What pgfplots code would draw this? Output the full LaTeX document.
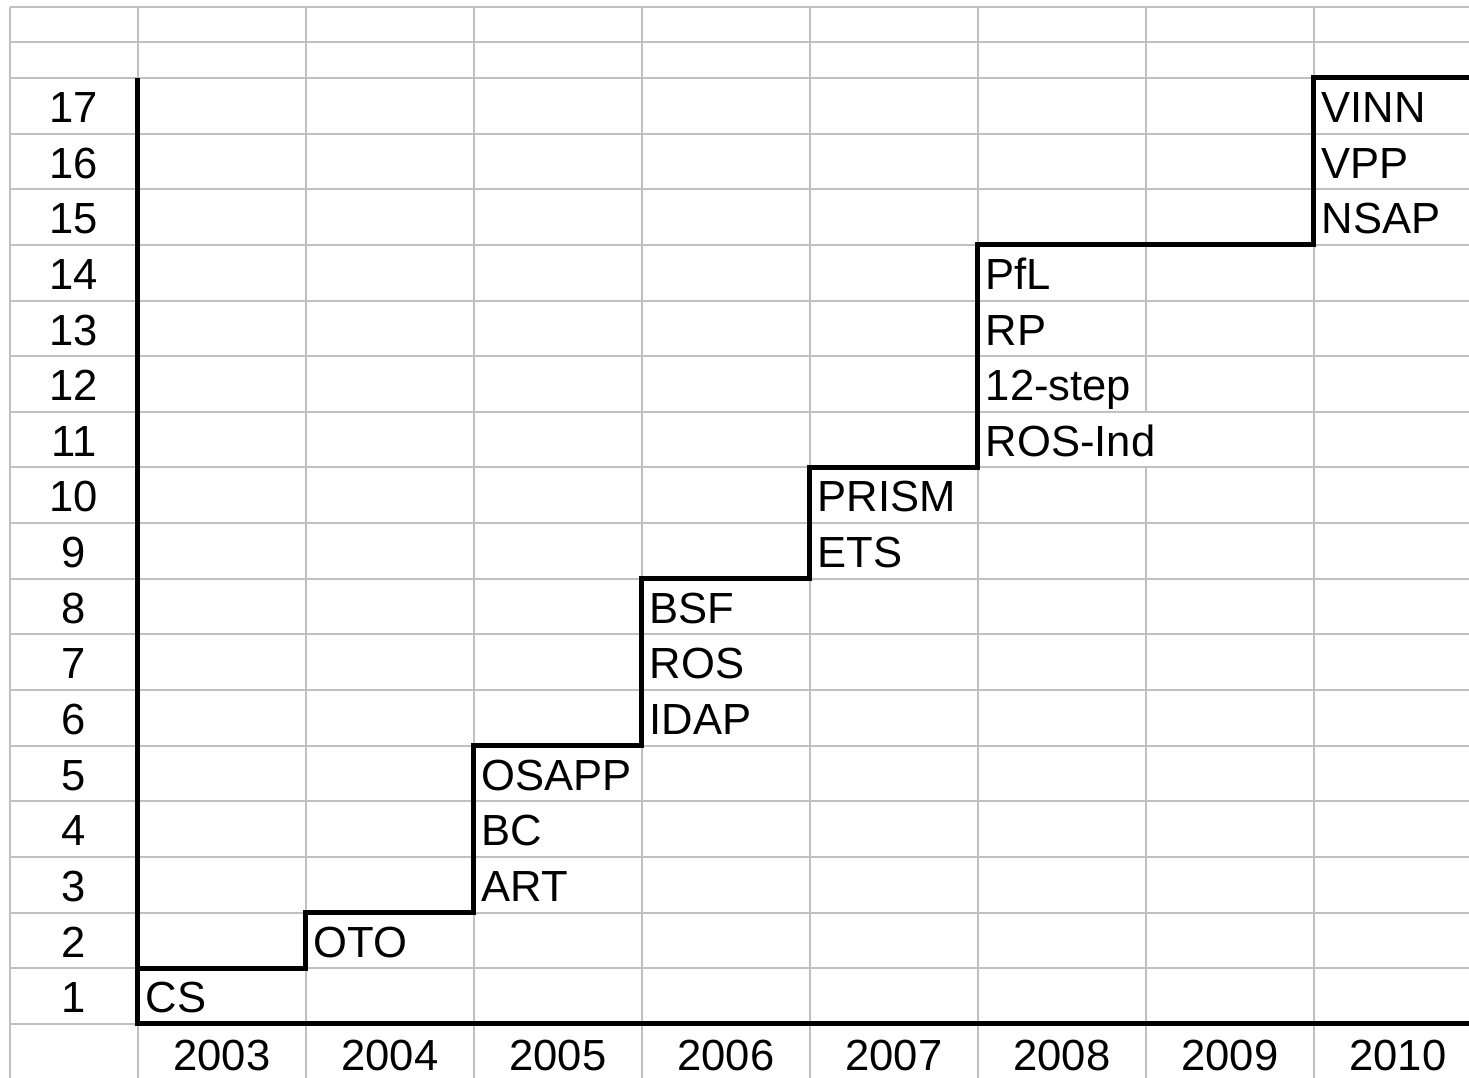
\documentclass[border=0pt]{standalone}
\usepackage{fontspec}
\setmainfont{Liberation Sans}
\usepackage{pgfplots}
\pgfplotsset{compat=1.18}
\definecolor{gridgray}{RGB}{192,192,192}
\begin{document}
\begin{tikzpicture}[font=\fontsize{31}{37}\selectfont]
\begin{axis}[
  width=367.25mm, height=269.5mm, scale only axis,
  xmin=-0.821, xmax=7.923, ymin=-0.970, ymax=18.40,
  axis lines=none, clip=false,
]
% spreadsheet grid
\pgfplotsinvokeforeach{1,2,3,4,5,6,7,8,9,10,11,12,13,14,15,16,17,17.65,18.27}{
  \draw[gridgray, line width=0.5mm] (axis cs:-0.762,#1) -- (axis cs:7.923,#1);
}
\draw[gridgray, line width=0.5mm] (axis cs:-0.762,0) -- (axis cs:0,0);
\pgfplotsinvokeforeach{-0.762,0,1,2,3,4,5,7}{
  \draw[gridgray, line width=0.5mm] (axis cs:#1,-0.970) -- (axis cs:#1,18.27);
}
\draw[gridgray, line width=0.5mm] (axis cs:6,-0.970) -- (axis cs:6,10);
\draw[gridgray, line width=0.5mm] (axis cs:6,11) -- (axis cs:6,18.27);

% axes
\draw[black, line width=1.25mm, line join=miter] (axis cs:0,17) -- (axis cs:0,0) -- (axis cs:7.923,0);

% cumulative step line
\addplot[const plot, black, line width=1.25mm, line join=miter, mark=none] coordinates {
  (0,1) (1,2) (2,5) (3,8) (4,10) (5,14) (6,14) (7,17) (7.923,17)
};

% row numbers
\node[anchor=base, inner sep=0pt] at (axis cs:-0.381,0.2) {1};
\node[anchor=base, inner sep=0pt] at (axis cs:-0.381,1.2) {2};
\node[anchor=base, inner sep=0pt] at (axis cs:-0.381,2.2) {3};
\node[anchor=base, inner sep=0pt] at (axis cs:-0.381,3.2) {4};
\node[anchor=base, inner sep=0pt] at (axis cs:-0.381,4.2) {5};
\node[anchor=base, inner sep=0pt] at (axis cs:-0.381,5.2) {6};
\node[anchor=base, inner sep=0pt] at (axis cs:-0.381,6.2) {7};
\node[anchor=base, inner sep=0pt] at (axis cs:-0.381,7.2) {8};
\node[anchor=base, inner sep=0pt] at (axis cs:-0.381,8.2) {9};
\node[anchor=base, inner sep=0pt] at (axis cs:-0.381,9.2) {10};
\node[anchor=base, inner sep=0pt] at (axis cs:-0.381,10.2) {11};
\node[anchor=base, inner sep=0pt] at (axis cs:-0.381,11.2) {12};
\node[anchor=base, inner sep=0pt] at (axis cs:-0.381,12.2) {13};
\node[anchor=base, inner sep=0pt] at (axis cs:-0.381,13.2) {14};
\node[anchor=base, inner sep=0pt] at (axis cs:-0.381,14.2) {15};
\node[anchor=base, inner sep=0pt] at (axis cs:-0.381,15.2) {16};
\node[anchor=base, inner sep=0pt] at (axis cs:-0.381,16.2) {17};

% years
\node[anchor=base, inner sep=0pt] at (axis cs:0.5,-0.827) {2003};
\node[anchor=base, inner sep=0pt] at (axis cs:1.5,-0.827) {2004};
\node[anchor=base, inner sep=0pt] at (axis cs:2.5,-0.827) {2005};
\node[anchor=base, inner sep=0pt] at (axis cs:3.5,-0.827) {2006};
\node[anchor=base, inner sep=0pt] at (axis cs:4.5,-0.827) {2007};
\node[anchor=base, inner sep=0pt] at (axis cs:5.5,-0.827) {2008};
\node[anchor=base, inner sep=0pt] at (axis cs:6.5,-0.827) {2009};
\node[anchor=base, inner sep=0pt] at (axis cs:7.5,-0.827) {2010};

% project labels
\node[anchor=base west, inner sep=0pt] at (axis cs:0.045,0.2) {CS};
\node[anchor=base west, inner sep=0pt] at (axis cs:1.045,1.2) {OTO};
\node[anchor=base west, inner sep=0pt] at (axis cs:2.045,2.2) {ART};
\node[anchor=base west, inner sep=0pt] at (axis cs:2.045,3.2) {BC};
\node[anchor=base west, inner sep=0pt] at (axis cs:2.045,4.2) {OSAPP};
\node[anchor=base west, inner sep=0pt] at (axis cs:3.045,5.2) {IDAP};
\node[anchor=base west, inner sep=0pt] at (axis cs:3.045,6.2) {ROS};
\node[anchor=base west, inner sep=0pt] at (axis cs:3.045,7.2) {BSF};
\node[anchor=base west, inner sep=0pt] at (axis cs:4.045,8.2) {ETS};
\node[anchor=base west, inner sep=0pt] at (axis cs:4.045,9.2) {PRISM};
\node[anchor=base west, inner sep=0pt] at (axis cs:5.045,10.2) {ROS-Ind};
\node[anchor=base west, inner sep=0pt] at (axis cs:5.045,11.2) {12-step};
\node[anchor=base west, inner sep=0pt] at (axis cs:5.045,12.2) {RP};
\node[anchor=base west, inner sep=0pt] at (axis cs:5.045,13.2) {PfL};
\node[anchor=base west, inner sep=0pt] at (axis cs:7.045,14.2) {NSAP};
\node[anchor=base west, inner sep=0pt] at (axis cs:7.045,15.2) {VPP};
\node[anchor=base west, inner sep=0pt] at (axis cs:7.045,16.2) {VINN};
\end{axis}
\pgfresetboundingbox
\path (current axis.south west) rectangle (current axis.north east);
\end{tikzpicture}
\end{document}
